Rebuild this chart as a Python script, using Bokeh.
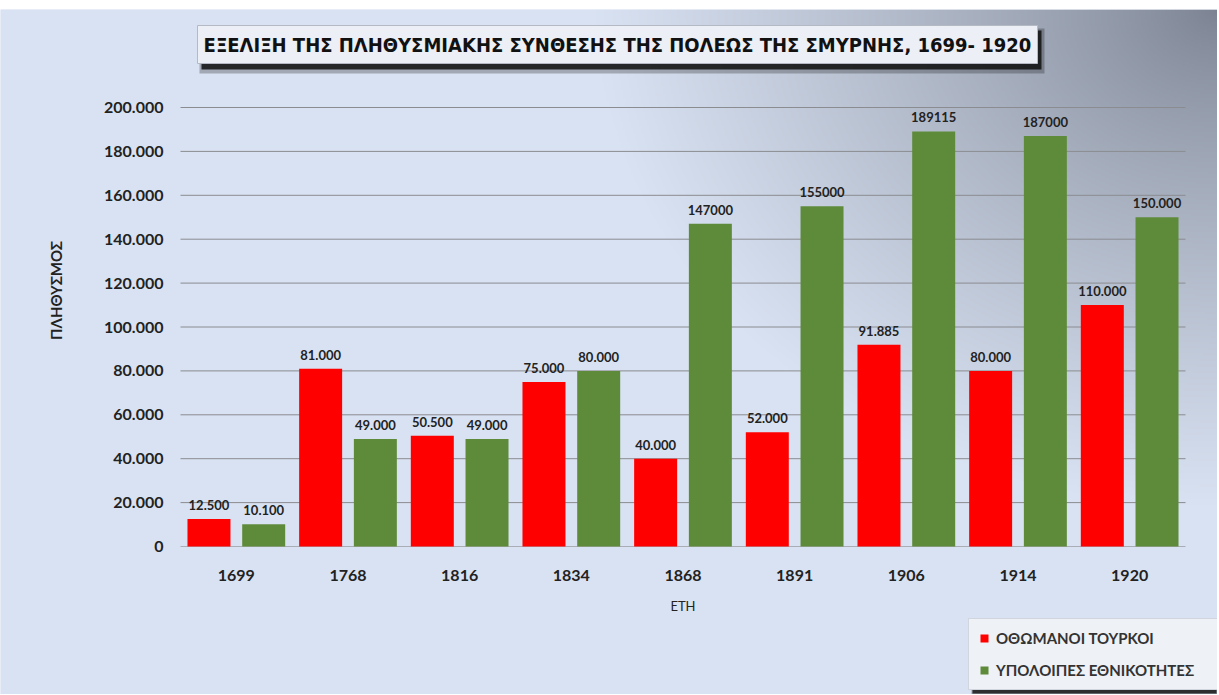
import numpy as np
from bokeh.plotting import figure
from bokeh.models import (FixedTicker, Label, Legend, LegendItem, ColumnDataSource,
                          Range1d, BoxAnnotation)
from bokeh.core.properties import value
from bokeh.embed import file_html
from bokeh.resources import INLINE

years = ["1699", "1768", "1816", "1834", "1868", "1891", "1906", "1914", "1920"]
turks = [12500, 81000, 50500, 75000, 40000, 52000, 91885, 80000, 110000]
others = [10100, 49000, 49000, 80000, 147000, 155000, 189115, 187000, 150000]
turks_labels = ["12.500", "81.000", "50.500", "75.000", "40.000", "52.000", "91.885", "80.000", "110.000"]
others_labels = ["10.100", "49.000", "49.000", "80.000", "147000", "155000", "189115", "187000", "150.000"]
y_ticks = [0, 20000, 40000, 60000, 80000, 100000, 120000, 140000, 160000, 180000, 200000]
y_tick_labels = ["0", "20.000", "40.000", "60.000", "80.000", "100.000", "120.000", "140.000",
                 "160.000", "180.000", "200.000"]
title_text = "ΕΞΕΛΙΞΗ ΤΗΣ ΠΛΗΘΥΣΜΙΑΚΗΣ ΣΥΝΘΕΣΗΣ ΤΗΣ ΠΟΛΕΩΣ ΤΗΣ ΣΜΥΡΝΗΣ, 1699- 1920"
y_title = "ΠΛΗΘΥΣΜΟΣ"
x_title = "ΕΤΗ"
series_names = ["ΟΘΩΜΑΝΟΙ ΤΟΥΡΚΟΙ", "ΥΠΟΛΟΙΠΕΣ ΕΘΝΙΚΟΤΗΤΕΣ"]

RED = "#ff0000"
GREEN = "#5e8b3a"
BG = (217, 226, 242)
CORNER = (123, 131, 146)
FONT = "Lato"
TITLE_FONT = "DejaVu Sans Condensed, DejaVu Sans"

# ---- layout geometry (pixels) ----
W, H = 1217, 694
TOP = 9                      # white strip at top
PLOT_L, PLOT_R = 180, 1185   # x extent of the categories
Y0_PX, YMAX_PX = 546, 107    # pixel rows of 0 and 200000
n = len(years)
ux = (PLOT_R - PLOT_L) / n
ky = y_ticks[-1] / (Y0_PX - YMAX_PX)
x_start, x_end = -PLOT_L / ux, n + (W - PLOT_R) / ux
y_top, y_bot = y_ticks[-1] + (YMAX_PX - TOP) * ky, -(H - Y0_PX) * ky

idx = np.arange(n) + 0.5
off = 0.245
src = ColumnDataSource(dict(xt=idx - off, xo=idx + off, turks=turks, others=others,
                            tl=turks_labels, ol=others_labels))

p = figure(width=W, height=H, x_range=Range1d(x_start, x_end), y_range=Range1d(y_bot, y_top),
           output_backend="svg", toolbar_location=None, min_border=0,
           min_border_top=TOP)
p.title.visible = False
p.background_fill_color = "#d9e2f2"
p.border_fill_color = "#ffffff"
p.outline_line_color = None
p.xgrid.visible = False
p.ygrid.visible = False

# background gradient (grey towards the top-right corner)
gh, gw = 343, 608
jj, ii = np.meshgrid(np.arange(gw), np.arange(gh))
px = (jj + 0.5) * W / gw
py = H - (ii + 0.5) * (H - TOP) / gh
d = np.sqrt((px - W) ** 2 + ((py - TOP) * 1.25) ** 2)
t = np.clip(d / 620.0, 0, 1) ** 0.8
img = np.zeros((gh, gw, 4), dtype=np.uint8)
for c in range(3):
    img[:, :, c] = (CORNER[c] + (BG[c] - CORNER[c]) * t).astype(np.uint8)
img[:, :, 3] = 255
p.image_rgba(image=[img.view(np.uint32).reshape(gh, gw)], x=x_start, y=y_bot,
             dw=x_end - x_start, dh=y_top - y_bot)

# grid lines
p.segment(x0=[0] * len(y_ticks), x1=[n] * len(y_ticks), y0=y_ticks, y1=y_ticks,
          line_color=["#a9adb5"] + ["#8a8c90"] * (len(y_ticks) - 1), line_width=1)

r1 = p.vbar(x="xt", top="turks", width=0.385, source=src, fill_color=RED, line_color=None)
r2 = p.vbar(x="xo", top="others", width=0.385, source=src, fill_color=GREEN, line_color=None)

for xc, col, lab in (("xt", "turks", "tl"), ("xo", "others", "ol")):
    p.text(x=xc, y=col, text=lab, source=src,
           text_align="center", text_baseline="bottom", y_offset=-9,
           text_font=value(FONT), text_font_style="bold", text_font_size="13px",
           text_color="#222222")

# y axis (fixed inside full-canvas frame)
ya = p.yaxis[0]
ya.fixed_location = 0
ya.bounds = (y_ticks[0], y_ticks[-1])
ya.ticker = FixedTicker(ticks=y_ticks)
ya.major_label_overrides = {t_: l for t_, l in zip(y_ticks, y_tick_labels)}
ya.axis_line_color = None
ya.major_tick_line_color = None
ya.minor_tick_line_color = None
ya.major_label_standoff = 11
ya.major_label_text_font = FONT
ya.major_label_text_font_style = "bold"
ya.major_label_text_font_size = "16px"
ya.major_label_text_color = "#222222"

# x axis
xa = p.xaxis[0]
xa.fixed_location = 0
xa.bounds = (0, n)
xa.ticker = FixedTicker(ticks=list(idx))
xa.major_label_overrides = {float(v): y for v, y in zip(idx, years)}
xa.axis_line_color = None
xa.major_tick_line_color = None
xa.minor_tick_line_color = None
xa.major_label_standoff = 17
xa.major_label_text_font = FONT
xa.major_label_text_font_style = "bold"
xa.major_label_text_font_size = "16px"
xa.major_label_text_color = "#222222"
xa.axis_label = x_title
xa.axis_label_text_font = FONT
xa.axis_label_text_font_style = "normal"
xa.axis_label_text_font_size = "13px"
xa.axis_label_text_color = "#222222"
xa.axis_label_standoff = 14

p.add_layout(Label(x=55, y=H - 290, x_units="screen", y_units="screen", text=y_title,
                   angle=90, angle_units="deg", text_align="center", text_baseline="middle",
                   text_font=FONT, text_font_style="bold", text_font_size="15px",
                   text_color="#222222"))

# title box with shadow
def sbox(l, r, t_, b, color, alpha, line=None):
    return BoxAnnotation(left=l, right=r, top=H - t_, bottom=H - b,
                         left_units="screen", right_units="screen",
                         top_units="screen", bottom_units="screen",
                         fill_color=color, fill_alpha=alpha,
                         line_color=line, line_alpha=1 if line else 0)

p.add_layout(sbox(199, 1044, 28, 73, "#000000", 0.25))
p.add_layout(sbox(201, 1041, 30, 69, "#111111", 0.85))
p.add_layout(sbox(197, 1037, 25, 63, "#eceff5", 1, "#b4b9c4"))
p.add_layout(Label(x=617, y=H - 44, x_units="screen", y_units="screen", text=title_text,
                   text_align="center", text_baseline="middle",
                   text_font=TITLE_FONT, text_font_style="bold", text_font_size="20px",
                   text_color="#111111"))

# legend with shadow
p.add_layout(sbox(971, W, 623, H, "#000000", 0.3))
p.add_layout(sbox(972, W - 1, 624, H - 1, "#111111", 0.8))
legend = Legend(items=[LegendItem(label=series_names[0], renderers=[r1]),
                       LegendItem(label=series_names[1], renderers=[r2])],
                location=(968, H - 690), orientation="vertical",
                glyph_width=10, glyph_height=10, label_height=18, spacing=14,
                padding=10, margin=0, label_standoff=7, label_width=212,
                label_text_font=FONT, label_text_font_size="15px",
                label_text_font_style="bold",
                label_text_color="#333333",
                background_fill_color="#eef1f6", background_fill_alpha=1,
                border_line_color="#b4b9c4", border_line_width=1)
p.add_layout(legend)

open("out.html", "w").write(file_html(p, INLINE))
